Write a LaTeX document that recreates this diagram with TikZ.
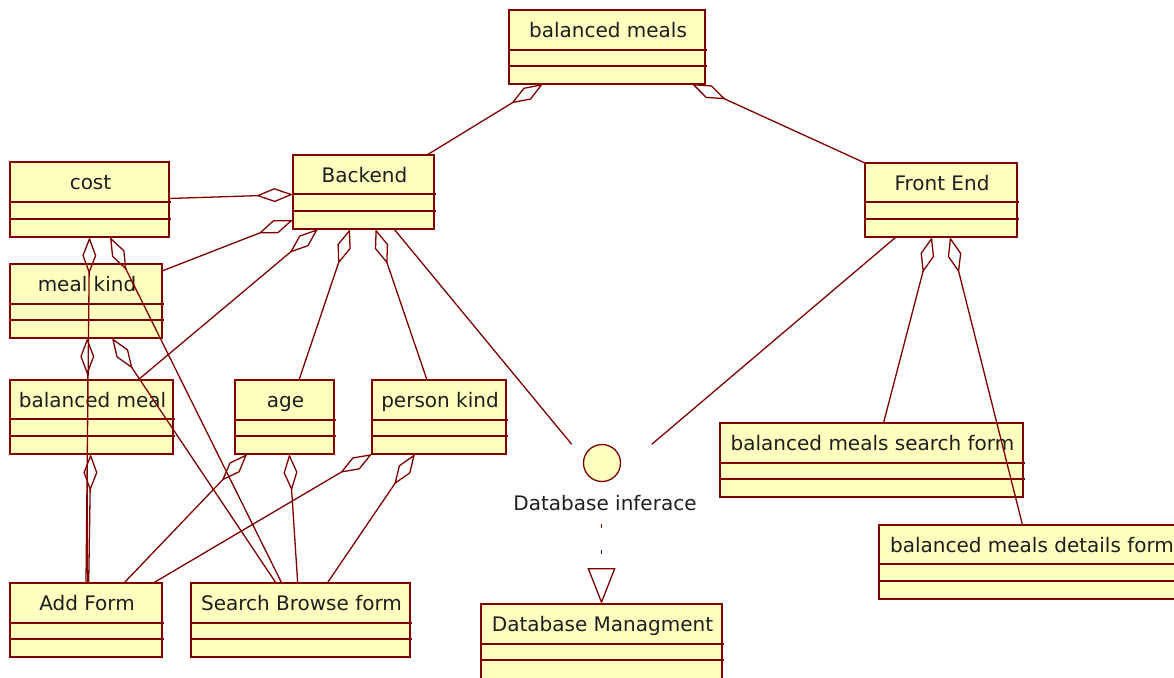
\documentclass[tikz,border=0pt]{standalone}
\usepackage{fontspec}
\setmainfont{DejaVu Sans}
\usetikzlibrary{arrows.meta,calc}
\definecolor{umlfill}{HTML}{FFFFC0}
\definecolor{umlline}{HTML}{800000}
\definecolor{umltext}{HTML}{1E1E1E}
\tikzset{
  classbox/.style={draw=umlline, fill=umlfill, line width=1.3pt, inner sep=0pt, outer sep=0pt, anchor=north west},
  compline/.style={draw=umlline, line width=1.3pt},
  classtext/.style={font=\fontsize{20}{24}\selectfont, text=umltext, anchor=base, inner sep=0pt},
  conn/.style={draw=umlline, line width=1.3pt},
  agg/.style={conn, -{Diamond[open, length=37pt, width=14pt]}},
  real/.style={conn, dash pattern=on 4pt off 22pt, -{Triangle[open, length=36pt, width=28pt]}},
  ifacecircle/.style={circle, draw=umlline, fill=umlfill, line width=1.3pt, minimum size=37pt, inner sep=0pt},
}
\newcommand{\umlclass}[8]{%
  \node[classbox, minimum width={(#4-#2)*1pt}, minimum height={(#5-#3)*1pt}] (#1) at (#2,#3) {};
  \draw[compline] (#2,#6) -- ({#4+2},#6);
  \draw[compline] (#2,#7) -- ({#4+2},#7);
  \node[classtext] (#1-label) at ({(#2+#4)/2+1},{#3+27.7}) {#8};
}
\begin{document}
\begin{tikzpicture}[x=1pt,y=-1pt]
\useasboundingbox (0,0) rectangle (1174,677);
% classes
\umlclass{bm}{509}{10}{705}{84}{50}{66}{balanced meals}
\umlclass{backend}{293}{155}{434}{229}{194}{211}{Backend}
\umlclass{frontend}{865}{163}{1017}{237}{202}{219}{Front End}
\umlclass{cost}{10}{162}{169}{237}{202}{219}{cost}
\umlclass{mealkind}{10}{264}{162}{338}{304}{320}{meal kind}
\umlclass{balmeal}{10}{380}{173}{454}{419}{436}{balanced meal}
\umlclass{age}{235}{380}{334}{454}{420}{436}{age}
\umlclass{person}{372}{380}{506}{454}{420}{436}{person kind}
\umlclass{search}{720}{423}{1023}{497}{463}{479}{balanced meals search form}
\umlclass{details}{879}{525}{1183}{599}{564}{581}{balanced meals details form}
\umlclass{addform}{10}{583}{162}{657}{623}{639}{Add Form}
\umlclass{sbform}{191}{583}{410}{657}{623}{639}{Search Browse form}
\umlclass{dbm}{481}{604}{722}{680}{644}{660}{Database Managment}
% interface
\node[ifacecircle] (iface) at (602,463) {};
\node[classtext] (iflabel) at (605,510) {Database inferace};
\coordinate (ifl) at ($(iface.center)+(-30.3,-18.7)$);
\coordinate (ifr) at ($(iface.center)+(49.7,-18.7)$);
% connectors
\draw[agg] ($(backend.north west)+(134,0)$) -- ($(bm.south west)+(34,0)$);
\draw[agg] (frontend.north west) -- ($(bm.south west)+(183,0)$);
\draw[agg] ($(cost.north east)+(0,36.5)$) -- ($(backend.north west)+(0,39.5)$);
\draw[agg] ($(mealkind.north east)+(0,7)$) -- ($(backend.north west)+(0,65)$);
\draw[agg] ($(balmeal.north west)+(128,0)$) -- ($(backend.south west)+(25,0)$);
\draw[agg] ($(age.north west)+(64,0)$) -- ($(backend.south west)+(57,0)$);
\draw[agg] ($(person.north west)+(55,0)$) -- ($(backend.south west)+(82.5,0)$);
\draw[conn] ($(backend.south west)+(101,0)$) -- (ifl);
\draw[conn] ($(frontend.south west)+(31,0)$) -- (ifr);
\draw[agg] ($(search.north west)+(163.5,0)$) -- ($(frontend.south west)+(67,0)$);
\draw[agg] ($(details.north west)+(143.5,0)$) -- ($(frontend.south west)+(85,0)$);
\draw[agg] ($(addform.north west)+(76,0)$) -- ($(cost.south west)+(79.5,0)$);
\draw[agg] ($(addform.north west)+(77.3,0)$) -- ($(mealkind.south west)+(77.3,0)$);
\draw[agg] ($(addform.north west)+(78.7,0)$) -- ($(balmeal.south west)+(80.7,0)$);
\draw[agg] ($(sbform.north west)+(90.7,0)$) -- ($(cost.south west)+(100,0)$);
\draw[agg] ($(sbform.north west)+(85,0)$) -- ($(mealkind.south west)+(102,0)$);
\draw[agg] ($(addform.north west)+(114,0)$) -- ($(age.south west)+(12.3,0)$);
\draw[agg] ($(sbform.north west)+(106.7,0)$) -- ($(age.south west)+(54.3,0)$);
\draw[agg] ($(addform.north west)+(143.3,0)$) -- (person.south west);
\draw[agg] ($(sbform.north west)+(136.3,0)$) -- ($(person.south west)+(43,0)$);
\draw[real] ($(iflabel.south -| dbm.north)+(0,14)$) -- (dbm.north);
\end{tikzpicture}
\end{document}
